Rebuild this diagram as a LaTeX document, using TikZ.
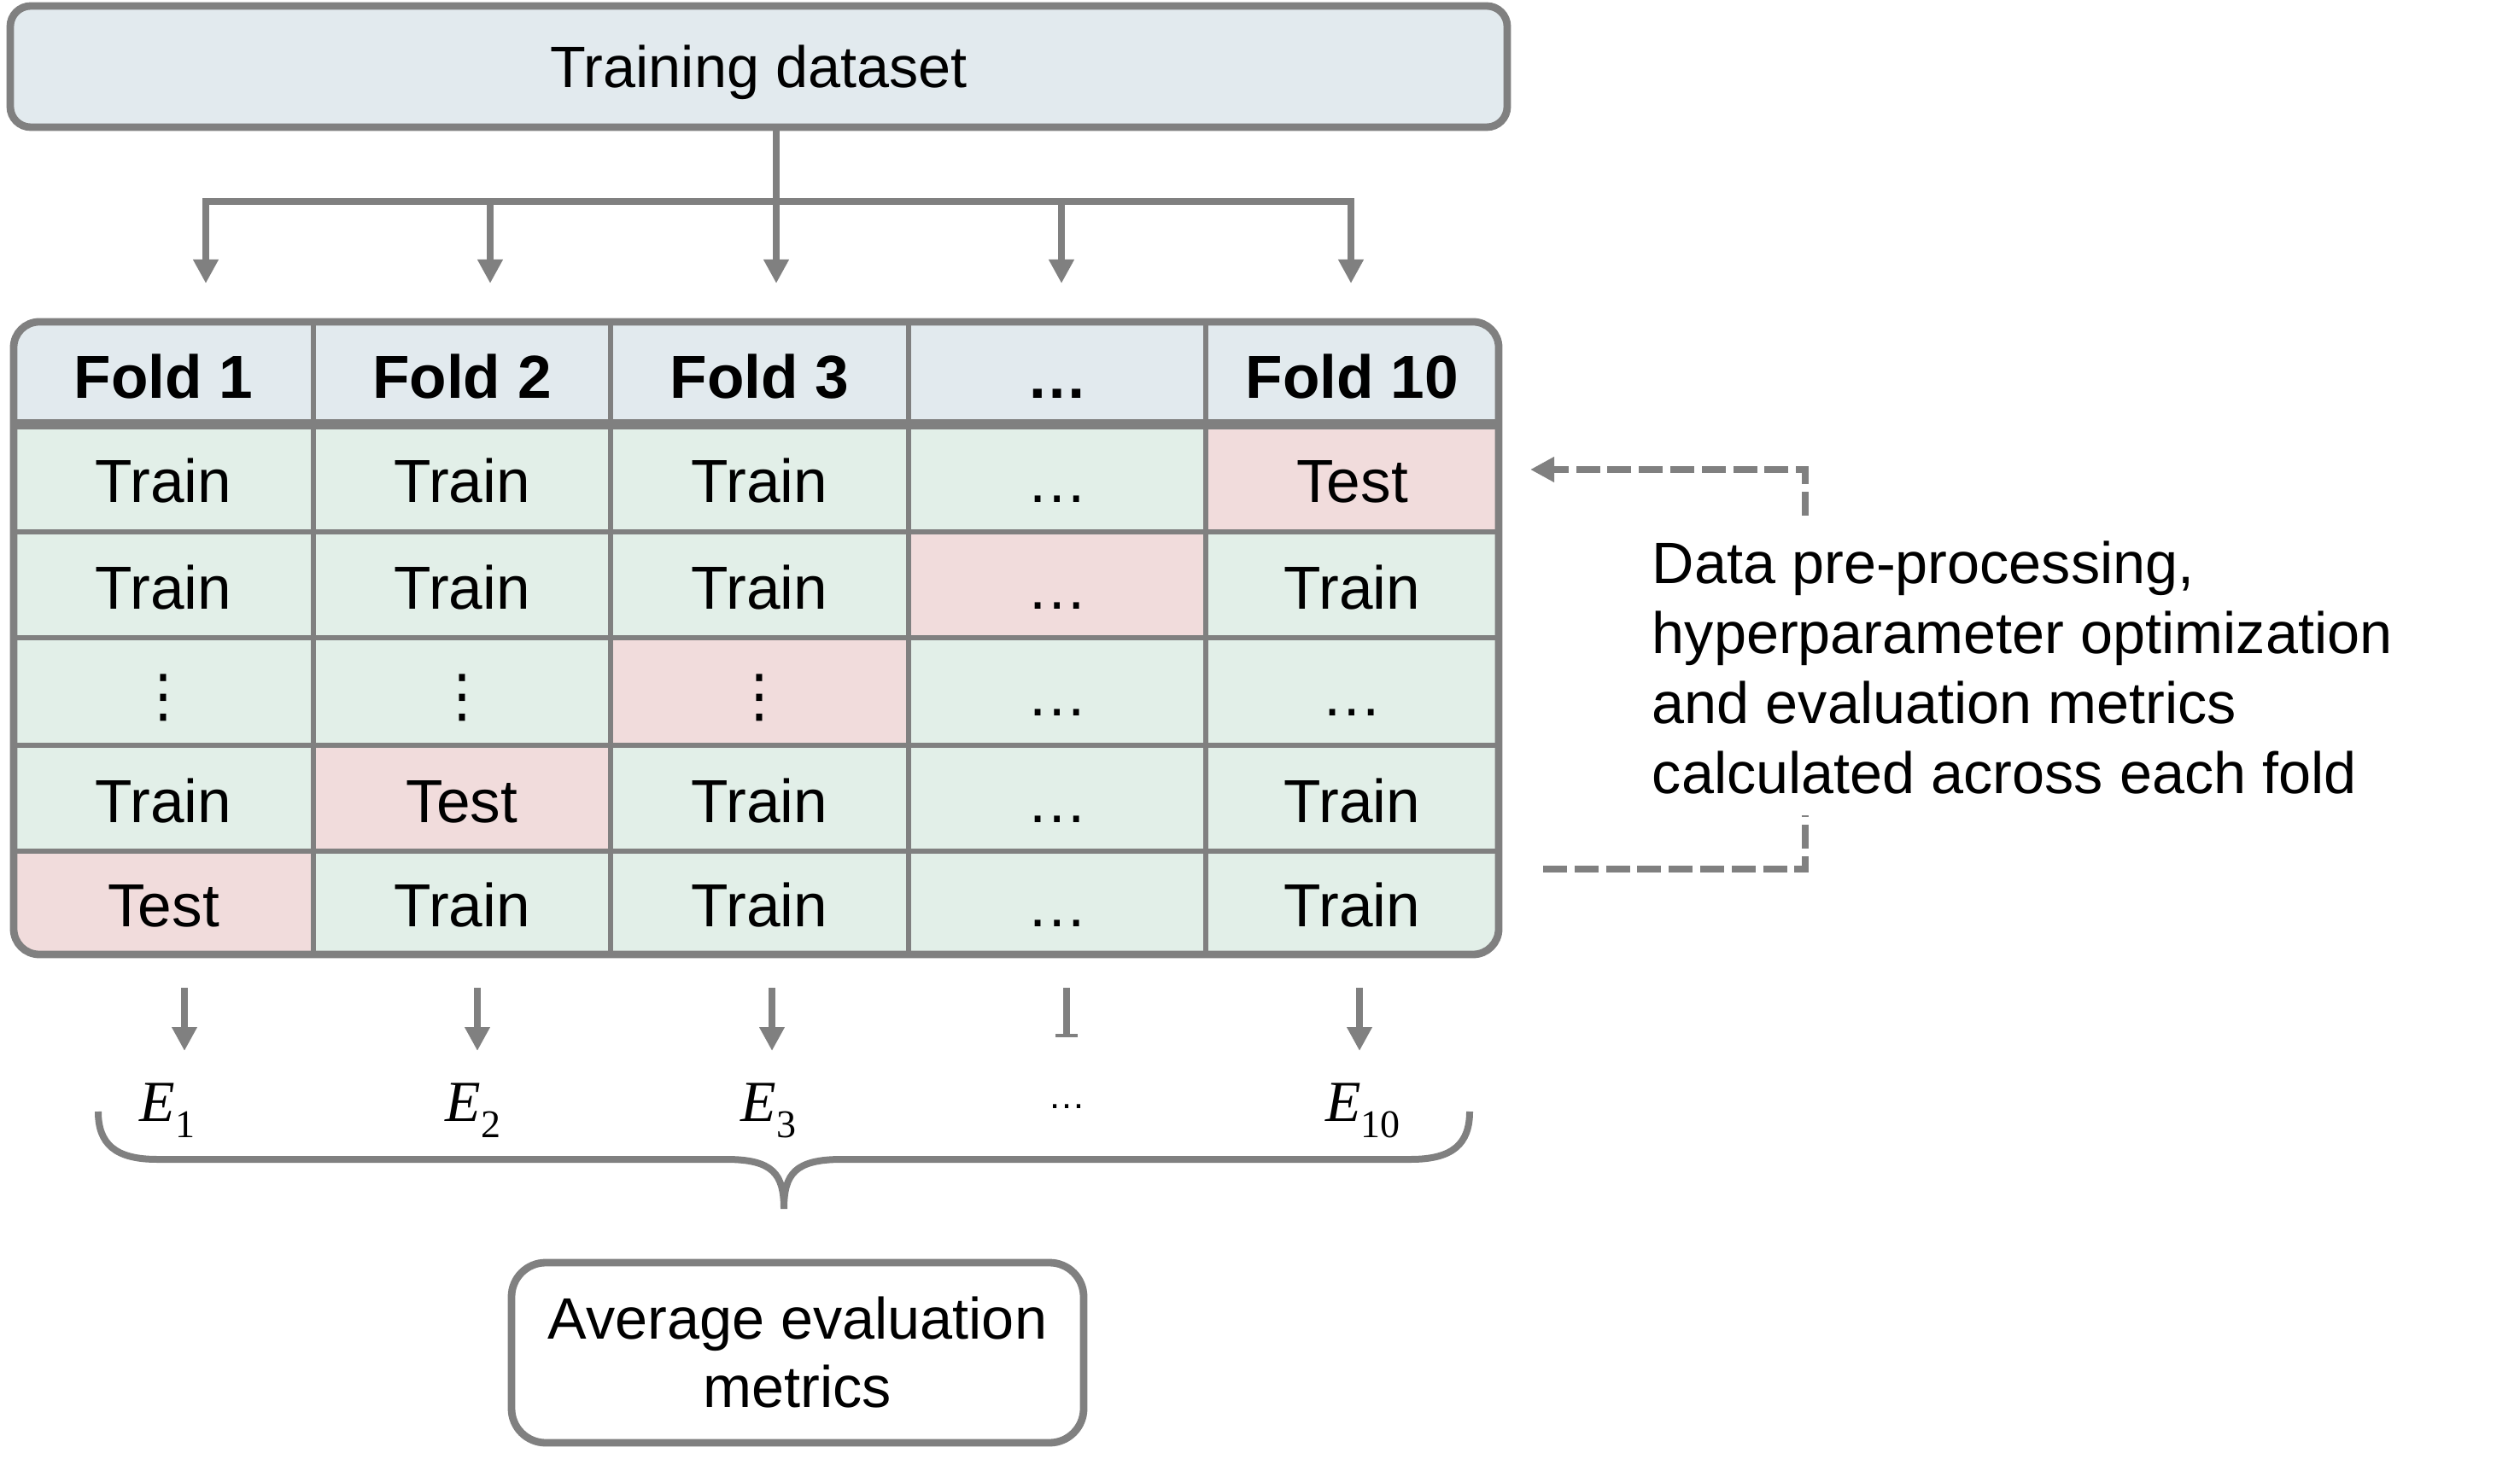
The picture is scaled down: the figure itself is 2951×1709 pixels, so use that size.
\documentclass[tikz,border=0pt]{standalone}
\usepackage[no-math]{fontspec}
\setmainfont{Liberation Sans}
\newfontfamily\eserif{Liberation Serif}
\newfontfamily\dejavu{DejaVu Sans}
\usetikzlibrary{arrows.meta}
\definecolor{lg}{HTML}{808080}
\definecolor{hdrc}{HTML}{E2EAEE}
\definecolor{trainc}{HTML}{E2EFE8}
\definecolor{testc}{HTML}{F1DCDC}
\newcommand\myvd{{\dejavu\fontsize{17}{20}\selectfont ⋮}}
\newcommand\evar[1]{{\eserif\itshape E}{\eserif\raisebox{-0.28em}{\fontsize{11.5}{13}\selectfont #1}}}
\begin{document}
\begin{tikzpicture}[x=0.25pt,y=-0.25pt,
  gline/.style={draw=lg, line width=2.2pt},
  arr/.style={draw=lg, line width=2.2pt, -{Triangle[length=7pt,width=7pt]}},
  dashline/.style={draw=lg, line width=2pt, dash pattern=on 7pt off 2.2pt},
  celltext/.style={font=\fontsize{17.8}{21}\selectfont, text height=12.75pt, text depth=0pt, inner sep=0pt, anchor=center},
  hdrtext/.style={celltext, font=\fontsize{17.8}{21}\selectfont\bfseries},
  txt/.style={font=\fontsize{17.1}{20}\selectfont},
  elab/.style={anchor=base, inner sep=0pt, font=\fontsize{17}{19}\selectfont}
]
\useasboundingbox (0,0) rectangle (2951,1709);

% top box
\node[gline, fill=hdrc, rounded corners=6pt, minimum width=438.25pt, minimum height=35.5pt, inner sep=0pt, txt, text height=12.2pt, text depth=0pt] (train) at (888.5,78) {Training dataset};

% split arrows
\coordinate (stem) at (909,236);
\draw[gline] (train.south -| stem) -- (stem);
\foreach \i/\x in {1/241,2/574,3/909,4/1243,5/1582}{
  \coordinate (tA\i) at (\x,236);
  \coordinate (tB\i) at (\x,332);
}
\draw[gline, line cap=rect] (tA1) -- (tA5);
\foreach \i in {1,...,5}{ \draw[arr] (tA\i) -- (tB\i); }

% table fills
\begin{scope}
\clip[rounded corners=7.5pt] (16,377) rectangle (1755,1118);
\fill[hdrc] (16,377) rectangle (1755,497);
\fill[trainc] (16,497) rectangle (1755,1118);
\fill[testc] (1412,497) rectangle (1755,623);
\fill[testc] (1064,623) rectangle (1412,747);
\fill[testc] (715,747) rectangle (1064,873);
\fill[testc] (367,873) rectangle (715,997);
\fill[testc] (16,997) rectangle (367,1118);
\foreach \x in {367,715,1064,1412}{ \draw[lg, line width=1.3pt] (\x,377) -- (\x,1118); }
\foreach \y in {623,747,873,997}{ \draw[lg, line width=1.3pt] (16,\y) -- (1755,\y); }
\end{scope}
\draw[lg, line width=2.8pt] (16,497) -- (1755,497);
\draw[gline, rounded corners=7.5pt] (16,377) rectangle (1755,1118);

% header texts
\foreach \c/\x/\t in {1/191.5/Fold 1,2/541/Fold 2,3/889.5/Fold 3,4/1238/…,5/1583.5/Fold 10}{
  \node[hdrtext] (h\c) at (\x,441) {\t};
}
% body texts
\foreach \r/\y/\ta/\tb/\tc/\td/\te in {
  1/563/Train/Train/Train/…/Test,
  2/688/Train/Train/Train/…/Train,
  3/813/\myvd/\myvd/\myvd/…/…,
  4/938/Train/Test/Train/…/Train,
  5/1060/Test/Train/Train/…/Train}{
  \node[celltext] (c\r-1) at (191.5,\y) {\ta};
  \node[celltext] (c\r-2) at (541,\y) {\tb};
  \node[celltext] (c\r-3) at (889.5,\y) {\tc};
  \node[celltext] (c\r-4) at (1238,\y) {\td};
  \node[celltext] (c\r-5) at (1583.5,\y) {\te};
}

% evaluation arrows
\foreach \i/\x in {1/216,2/559,3/904,5/1592}{
  \coordinate (bA\i) at (\x,1157);
  \coordinate (bB\i) at (\x,1231);
  \draw[arr] (bA\i) -- (bB\i);
}
\coordinate (bA4) at (1249,1157);
\coordinate (bB4) at (1249,1215);
\draw[draw=lg, line width=2.2pt, -{Bar[width=6.5pt,line width=1pt]}] (bA4) -- (bB4);

% E labels
\node[elab] (e1) at (196,1313) {\evar{1}};
\node[elab] (e2) at (554,1313) {\evar{2}};
\node[elab] (e3) at (900,1313) {\evar{3}};
\node[anchor=base, inner sep=0pt, font=\fontsize{11}{13}\selectfont] (e4) at (1249,1298) {…};
\node[elab] (e5) at (1596,1313) {\evar{10}};

% brace
\draw[lg, line width=2pt] (115,1302) .. controls (115,1340) and (135,1358) .. (184,1358)
  -- (850,1358) .. controls (905,1358) and (918,1375) .. (918,1416)
  .. controls (918,1375) and (931,1358) .. (986,1358)
  -- (1652,1358) .. controls (1701,1358) and (1721,1340) .. (1721,1302);

% average box
\node[gline, rounded corners=10pt, minimum width=167.5pt, minimum height=52.75pt, inner sep=0pt, align=center, txt] (avg) at (934,1584.5) {Average evaluation\\metrics};

% note text
\node[anchor=north west, inner sep=0pt, align=left, font=\fontsize{17.1}{20.5}\selectfont] (note) at (1934,633) {Data pre-processing,\\hyperparameter optimization\\and evaluation metrics\\calculated across each fold};

% dashed connectors
\coordinate (dA) at (2114,604);
\coordinate (dC) at (2114,550);
\coordinate (dT) at (1792,550);
\draw[dashline, -{Triangle[length=7pt,width=7pt]}] (dA) -- (dC) -- (dT);
\coordinate (dB1) at (1807,1018);
\coordinate (dB2) at (2114,1018);
\coordinate (dB3) at (2114,955);
\draw[dashline] (dB1) -- (dB2) -- (dB3);
\end{tikzpicture}
\end{document}
